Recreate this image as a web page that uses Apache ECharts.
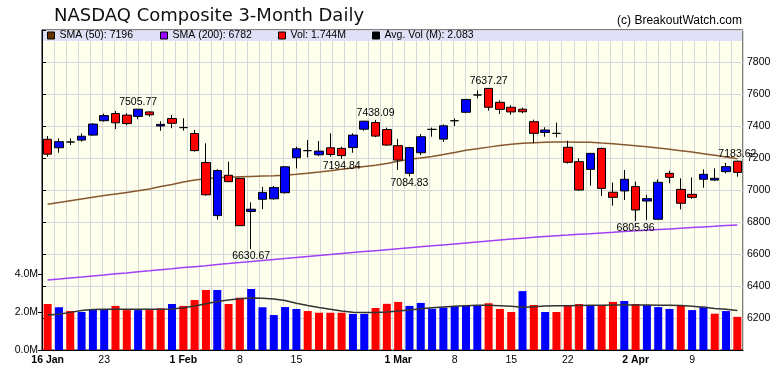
<!DOCTYPE html>
<html>
<head>
<meta charset="utf-8">
<title>NASDAQ Composite 3-Month Daily</title>
<script src="https://cdn.jsdelivr.net/npm/echarts@6.0.0/dist/echarts.min.js"></script>
<style>
  html, body { margin: 0; padding: 0; background: #fff; }
  #chart { width: 780px; height: 376px; }
</style>
</head>
<body>
<div id="chart"></div>
<script>
// trading days, 16 Jan - 13 Apr 2018
const dates = [
  '2018-01-16','2018-01-17','2018-01-18','2018-01-19','2018-01-22','2018-01-23','2018-01-24','2018-01-25','2018-01-26','2018-01-29',
  '2018-01-30','2018-01-31','2018-02-01','2018-02-02','2018-02-05','2018-02-06','2018-02-07','2018-02-08','2018-02-09','2018-02-12',
  '2018-02-13','2018-02-14','2018-02-15','2018-02-16','2018-02-20','2018-02-21','2018-02-22','2018-02-23','2018-02-26','2018-02-27',
  '2018-02-28','2018-03-01','2018-03-02','2018-03-05','2018-03-06','2018-03-07','2018-03-08','2018-03-09','2018-03-12','2018-03-13',
  '2018-03-14','2018-03-15','2018-03-16','2018-03-19','2018-03-20','2018-03-21','2018-03-22','2018-03-23','2018-03-26','2018-03-27',
  '2018-03-28','2018-03-29','2018-04-02','2018-04-03','2018-04-04','2018-04-05','2018-04-06','2018-04-09','2018-04-10','2018-04-11',
  '2018-04-12','2018-04-13'
];

const opens = [
  7317, 7264, 7300, 7312, 7343, 7433, 7478, 7468, 7460, 7488,
  7400, 7447, 7390, 7353, 7172, 6840, 7092, 7073, 6866, 6942,
  6945, 6983, 7202, 7246, 7220, 7264, 7260, 7265, 7380, 7422,
  7378, 7277, 7104, 7233, 7379, 7318, 7433, 7486, 7594, 7635,
  7548, 7517, 7505, 7427, 7360, 7354, 7267, 7177, 7129, 7260,
  6986, 6994, 7021, 6931, 6817, 7104, 7004, 6973, 7067, 7062,
  7115, 7180
];
const highs = [
  7337, 7323, 7323, 7354, 7418, 7478, 7494, 7480, 7505.77, 7492,
  7430, 7469, 7448, 7375, 7292, 7130, 7177, 7075, 6923, 7019,
  7025, 7150, 7271, 7312, 7306, 7354, 7270, 7354, 7433, 7438.09,
  7390, 7319, 7270, 7350, 7390, 7410, 7448, 7568, 7621, 7637.27,
  7560, 7530, 7515, 7440, 7392, 7421, 7308, 7198, 7230, 7265,
  7046, 7125, 7052, 6969, 7067, 7121, 7073, 7079, 7129, 7135,
  7170, 7183.62
];
const lows = [
  7208, 7233, 7281, 7302, 7340, 7428, 7381, 7405, 7442, 7458,
  7370, 7386, 7371, 7240, 6965, 6815, 7050, 6775, 6630.67, 6880,
  6940, 6978, 7135, 7204, 7212, 7208, 7194.84, 7233, 7370, 7330,
  7275, 7125, 7084.83, 7218, 7333, 7300, 7400, 7480, 7573, 7496,
  7475, 7470, 7480, 7292, 7333, 7329, 7165, 6995, 7027, 6962,
  6902, 6938, 6805.96, 6812, 6815, 7042, 6879, 6944, 7014, 7058,
  7104, 7083
];
const closes = [
  7224, 7302, 7300, 7336, 7412, 7465, 7420, 7415, 7505, 7470,
  7410, 7417, 7390, 7246, 6970, 7122, 7052, 6777, 6880, 6985,
  7015, 7145, 7258, 7246, 7243, 7222, 7215, 7343, 7430, 7337,
  7281, 7187, 7265, 7333, 7379, 7401, 7433, 7566, 7594, 7517,
  7504, 7488, 7489, 7354, 7375, 7354, 7173, 7000, 7229, 7010,
  6954, 7067, 6875, 6946, 7048, 7079, 6917, 6954, 7098, 7073,
  7146, 7110
];
const prevClose = 7261; // close before the first day, colours the first volume bar

// volume in millions
const volumes = [
  2.42, 2.25, 2.05, 2.00, 2.14, 2.14, 2.32, 2.10, 2.10, 2.10,
  2.19, 2.42, 2.32, 2.63, 3.16, 3.16, 2.42, 2.75, 3.21, 2.25,
  1.84, 2.26, 2.16, 2.05, 1.96, 1.96, 1.96, 1.90, 1.90, 2.21,
  2.43, 2.53, 2.32, 2.48, 2.17, 2.23, 2.32, 2.33, 2.33, 2.46,
  2.16, 2.00, 3.10, 2.37, 2.00, 2.00, 2.37, 2.42, 2.37, 2.37,
  2.53, 2.58, 2.42, 2.37, 2.26, 2.16, 2.37, 2.10, 2.28, 1.91,
  2.05, 1.744
];
const avgVolumes = [
  1.84, 1.88, 1.98, 2.08, 2.13, 2.14, 2.14, 2.14, 2.14, 2.14,
  2.14, 2.16, 2.22, 2.32, 2.44, 2.55, 2.63, 2.70, 2.74, 2.73,
  2.68, 2.60, 2.46, 2.34, 2.24, 2.15, 2.05, 1.99, 1.98, 1.98,
  2.00, 2.05, 2.11, 2.17, 2.22, 2.26, 2.30, 2.33, 2.35, 2.35,
  2.33, 2.30, 2.25, 2.28, 2.31, 2.33, 2.33, 2.34, 2.35, 2.36,
  2.37, 2.37, 2.37, 2.37, 2.36, 2.35, 2.34, 2.30, 2.25, 2.19,
  2.14, 2.083
];
const sma50 = [
  6911, 6922, 6933, 6944, 6955, 6965, 6975, 6985, 6995, 7006,
  7022, 7035, 7050, 7062, 7070, 7076, 7080, 7083, 7085, 7087,
  7089, 7092, 7098, 7105, 7112, 7120, 7130, 7138, 7147, 7155,
  7165, 7180, 7192, 7200, 7210, 7222, 7235, 7248, 7258, 7268,
  7278, 7286, 7292, 7296, 7299, 7300, 7300, 7299, 7298, 7293,
  7289, 7283, 7277, 7270, 7263, 7255, 7246, 7237, 7227, 7217,
  7206, 7196
];
const sma200 = [
  6437, 6443, 6450, 6456, 6463, 6469, 6476, 6482, 6489, 6495,
  6502, 6508, 6515, 6521, 6527, 6534, 6540, 6547, 6553, 6560,
  6566, 6572, 6578, 6584, 6590, 6597, 6603, 6609, 6615, 6621,
  6627, 6633, 6639, 6645, 6651, 6657, 6663, 6669, 6675, 6681,
  6687, 6693, 6699, 6704, 6709, 6714, 6718, 6723, 6727, 6732,
  6736, 6741, 6745, 6749, 6753, 6757, 6761, 6765, 6769, 6773,
  6778, 6782
];

const tickDates = ['2018-01-16','2018-01-23','2018-02-01','2018-02-08','2018-02-15','2018-03-01',
                   '2018-03-08','2018-03-15','2018-03-22','2018-04-02','2018-04-09'];
const tickLabels = ['16 Jan','23','1 Feb','8','15','1 Mar','8','15','22','2 Apr','9'];
const boldTicks = ['16 Jan','1 Feb','1 Mar','2 Apr'];

// days whose high / low is written on the chart
const highMarks = [8, 29, 39, 61];
const lowMarks = [18, 26, 32, 52];

const RED = '#ff0000';
const BLUE = '#0000ff';
const SANS = '"Liberation Sans", Arial, sans-serif';
const FS = 10.5;

const chart = echarts.init(document.getElementById('chart'), null, { renderer: 'canvas' });

const candles = dates.map((d, i) => [opens[i], closes[i], lows[i], highs[i]]);
const volData = volumes.map((v, i) => {
  const before = i ? closes[i - 1] : prevClose;
  return { value: v, itemStyle: { color: closes[i] >= before ? BLUE : RED } };
});

const marks = highMarks.map(i => ({
  coord: [dates[i], highs[i]], value: highs[i].toFixed(2),
  label: { position: 'top', distance: 1 }
})).concat(lowMarks.map(i => ({
  coord: [dates[i], lows[i]], value: lows[i].toFixed(2),
  label: { position: 'bottom', distance: 1 }
})));

const legendBase = {
  top: 30, padding: 0, itemWidth: 7, itemHeight: 7, icon: 'rect', selectedMode: false, z: 10,
  itemStyle: { borderColor: '#000', borderWidth: 1 },
  textStyle: { fontSize: FS, color: '#000', fontFamily: SANS }
};
const names = ['SMA (50): 7196', 'SMA (200): 6782', 'Vol: 1.744M', 'Avg. Vol (M): 2.083'];

chart.setOption({
  animation: false,
  backgroundColor: '#fff',
  title: [
    {
      text: 'NASDAQ Composite 3-Month Daily', left: 54, top: 7, padding: 0,
      textStyle: { fontSize: 18, fontWeight: 'normal', color: '#111', fontFamily: '"DejaVu Sans", sans-serif' }
    },
    {
      text: '(c) BreakoutWatch.com', right: 38, top: 15, padding: 0,
      textStyle: { fontSize: 12, fontWeight: 'normal', color: '#000', fontFamily: SANS }
    }
  ],
  legend: [
    Object.assign({}, legendBase, { left: 47, data: [{ name: names[0], itemStyle: { color: '#663300' } }] }),
    Object.assign({}, legendBase, { left: 160, data: [{ name: names[1], itemStyle: { color: '#9900ff' } }] }),
    Object.assign({}, legendBase, { left: 278, data: [{ name: names[2], itemStyle: { color: RED } }] }),
    Object.assign({}, legendBase, { left: 372, data: [{ name: names[3], itemStyle: { color: '#000' } }] })
  ],
  graphic: [{
    type: 'rect', z: 3, silent: true,
    shape: { x: 43, y: 31, width: 699, height: 10 },
    style: { fill: '#e0e0f6' }
  }],
  grid: [
    { left: 42, right: 37, top: 30, height: 320, show: true, backgroundColor: '#ffffee', borderColor: '#000', borderWidth: 1 },
    { left: 42, right: 37, top: 274, height: 76 }
  ],
  xAxis: [
    {
      type: 'category', gridIndex: 0, data: dates, boundaryGap: true,
      axisLine: { lineStyle: { color: '#000' } },
      axisTick: {
        alignWithLabel: true, length: 4, lineStyle: { color: '#000' },
        interval: (idx, val) => tickDates.indexOf(val) >= 0
      },
      axisLabel: {
        interval: (idx, val) => tickDates.indexOf(val) >= 0,
        margin: 5, fontSize: FS, color: '#000', fontFamily: SANS,
        formatter: val => {
          const t = tickLabels[tickDates.indexOf(val)];
          return boldTicks.indexOf(t) >= 0 ? '{b|' + t + '}' : t;
        },
        rich: { b: { fontWeight: 'bold', fontSize: FS, fontFamily: SANS, color: '#000' } }
      },
      splitLine: { show: false }
    },
    {
      // only draws the vertical grid lines
      type: 'value', gridIndex: 0, position: 'top', min: 0, max: 58, interval: 1,
      axisLine: { show: false }, axisTick: { show: false }, axisLabel: { show: false },
      splitLine: { show: true, lineStyle: { color: '#d6d6d6', width: 1 } }
    },
    {
      type: 'category', gridIndex: 1, data: dates, boundaryGap: true, show: false
    }
  ],
  yAxis: [
    {
      type: 'value', gridIndex: 0, position: 'right', min: 6000, max: 8000, interval: 200,
      axisLine: { show: true, lineStyle: { color: '#000' } },
      axisTick: { show: true, length: 4, lineStyle: { color: '#000' } },
      axisLabel: {
        margin: 4, fontSize: FS, color: '#000', fontFamily: SANS,
        formatter: v => (v === 6000 || v === 8000) ? '' : String(v)
      },
      splitLine: { show: true, lineStyle: { color: '#d6d6d6', width: 1 } }
    },
    {
      type: 'value', gridIndex: 1, position: 'left', min: 0, max: 4, interval: 2,
      axisLine: { show: false },
      axisTick: { show: true, length: 4, lineStyle: { color: '#000' } },
      axisLabel: {
        margin: 4, fontSize: FS, color: '#000', fontFamily: SANS,
        formatter: v => v.toFixed(1) + 'M'
      },
      splitLine: { show: false }
    }
  ],
  series: [
    {
      name: names[2], type: 'bar', xAxisIndex: 2, yAxisIndex: 1,
      barWidth: 8, data: volData, itemStyle: { color: RED }, z: 2
    },
    {
      name: names[3], type: 'line', xAxisIndex: 2, yAxisIndex: 1,
      data: avgVolumes, symbol: 'none', lineStyle: { color: '#333', width: 1.5 },
      itemStyle: { color: '#000' }, z: 3
    },
    {
      name: names[0], type: 'line', xAxisIndex: 0, yAxisIndex: 0,
      data: sma50, symbol: 'none', lineStyle: { color: '#86582e', width: 1.5 },
      itemStyle: { color: '#663300' }, z: 3
    },
    {
      name: names[1], type: 'line', xAxisIndex: 0, yAxisIndex: 0,
      data: sma200, symbol: 'none', lineStyle: { color: '#a040f8', width: 1.5 },
      itemStyle: { color: '#9900ff' }, z: 3
    },
    {
      name: 'NASDAQ', type: 'candlestick', xAxisIndex: 0, yAxisIndex: 0,
      data: candles, barWidth: 9, z: 4,
      itemStyle: {
        color: BLUE, color0: RED,
        borderColor: '#000', borderColor0: '#000', borderColorDoji: '#000', borderWidth: 1
      },
      markPoint: {
        symbol: 'rect', symbolSize: 1, silent: true,
        itemStyle: { color: 'rgba(0,0,0,0)' },
        label: { show: true, color: '#000', fontSize: FS, fontFamily: SANS, formatter: p => p.value },
        data: marks
      }
    }
  ]
});
</script>
</body>
</html>
